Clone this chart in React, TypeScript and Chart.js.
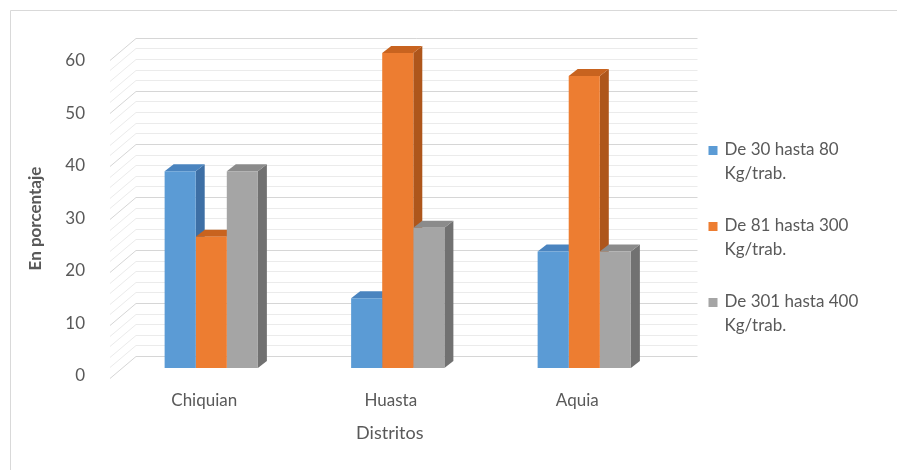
import React, { useEffect, useRef } from "react";
import { Chart, registerables } from "chart.js";

Chart.register(...registerables);

// Categories and series (percentages per district)
const distritos = ["Chiquian", "Huasta", "Aquia"];
const rango30a80 = [37.5, 13.3, 22.2];
const rango81a300 = [25.0, 60.0, 55.6];
const rango301a400 = [37.5, 26.7, 22.2];
const serieNombres = [
  "De 30 hasta 80 Kg/trab.",
  "De 81 hasta 300 Kg/trab.",
  "De 301 hasta 400 Kg/trab.",
];
const yMin = 0;
const yMax = 60;
const yStep = 10;
const yMinorStep = 2;
const tituloY = "En porcentaje";
const tituloX = "Distritos";

const FONT = "Lato, 'Open Sans', 'DejaVu Sans', sans-serif";
const TEXT = "#595959";
const frontColors = ["#5B9BD5", "#ED7D31", "#A5A5A5"];
const sideColors = ["#3D6FA5", "#AE561B", "#717171"];
const topColors = ["#4A84BF", "#C8631F", "#8B8B8B"];

// depth of each column (pixels right / up)
const DX = 9;
const DY = 7;

const framePlugin = {
  id: "frame",
  beforeDraw(chart: any) {
    const { ctx, width, height } = chart;
    ctx.save();
    ctx.fillStyle = "#ffffff";
    ctx.fillRect(0, 0, width, height);
    ctx.strokeStyle = "#d9d9d9";
    ctx.lineWidth = 1;
    ctx.beginPath();
    ctx.moveTo(10.5, height);
    ctx.lineTo(10.5, 10.5);
    ctx.lineTo(width, 10.5);
    ctx.stroke();
    ctx.restore();
  },
};

// back wall, side wall and the 3D faces of each column
const depthPlugin = {
  id: "depth",
  beforeDatasetsDraw(chart: any) {
    const { ctx, chartArea } = chart;
    const { left, right, bottom } = chartArea;
    const ys = chart.scales.y;
    const wallLeft = left + 18;
    const wallRight = right + 20;
    const backY = (v: number) => bottom - 12 - (bottom - ys.getPixelForValue(v)) * 1.01;

    ctx.save();
    ctx.lineWidth = 1;
    for (let v = yMin; v <= yMax; v += yMinorStep) {
      const major = v % yStep === 0;
      const y = Math.round(backY(v)) + 0.5;
      ctx.strokeStyle = major ? "#d6d6d6" : "#ebebeb";
      ctx.beginPath();
      ctx.moveTo(wallLeft, y);
      ctx.lineTo(wallRight, y);
      ctx.stroke();
      ctx.beginPath();
      ctx.moveTo(left - 8, y + 22);
      ctx.lineTo(wallLeft, y);
      ctx.stroke();
    }

    chart.data.datasets.forEach((ds: any, i: number) => {
      const meta = chart.getDatasetMeta(i);
      meta.data.forEach((bar: any) => {
        const { x, y, width, base } = bar.getProps(["x", "y", "width", "base"], true);
        const l = x - width / 2;
        const r = x + width / 2;
        ctx.fillStyle = sideColors[i];
        ctx.beginPath();
        ctx.moveTo(r, y);
        ctx.lineTo(r + DX, y - DY);
        ctx.lineTo(r + DX, base - DY);
        ctx.lineTo(r, base);
        ctx.closePath();
        ctx.fill();
        ctx.fillStyle = topColors[i];
        ctx.beginPath();
        ctx.moveTo(l, y);
        ctx.lineTo(l + DX, y - DY);
        ctx.lineTo(r + DX, y - DY);
        ctx.lineTo(r, y);
        ctx.closePath();
        ctx.fill();
      });
    });
    ctx.restore();
  },
};

const titlesPlugin = {
  id: "titles",
  afterDraw(chart: any) {
    const { ctx, chartArea } = chart;
    const { left, right, top, bottom } = chartArea;
    ctx.save();
    ctx.fillStyle = TEXT;
    ctx.textAlign = "center";
    ctx.textBaseline = "middle";
    ctx.font = `bold 17px ${FONT}`;
    ctx.translate(left - 82, (top + bottom) / 2 + 8);
    ctx.rotate(-Math.PI / 2);
    ctx.fillText(tituloY, 0, 0);
    ctx.restore();

    ctx.save();
    ctx.fillStyle = TEXT;
    ctx.textAlign = "center";
    ctx.textBaseline = "middle";
    ctx.font = `18px ${FONT}`;
    ctx.fillText(tituloX, (left + right) / 2 - 8, bottom + 65);
    ctx.restore();
  },
};

const legendPlugin = {
  id: "sideLegend",
  afterDraw(chart: any) {
    const { ctx, chartArea } = chart;
    const x0 = chartArea.right + 31;
    const y0 = chartArea.top + 97;
    ctx.save();
    ctx.font = `17px ${FONT}`;
    ctx.textBaseline = "middle";
    ctx.textAlign = "left";
    chart.data.datasets.forEach((ds: any, i: number) => {
      const y = y0 + i * 76;
      ctx.fillStyle = frontColors[i];
      ctx.fillRect(x0, y - 4, 9, 9);
      const label: string = ds.label;
      const cut = label.lastIndexOf(" ");
      const lines = [label.slice(0, cut), label.slice(cut + 1)];
      ctx.fillStyle = TEXT;
      lines.forEach((ln, k) => ctx.fillText(ln, x0 + 16, y + k * 24));
    });
    ctx.restore();
  },
};

export default function App() {
  const canvasRef = useRef<HTMLCanvasElement | null>(null);

  useEffect(() => {
    const canvas = canvasRef.current;
    if (!canvas) return;
    const series = [rango30a80, rango81a300, rango301a400];
    const chart = new Chart(canvas, {
      type: "bar",
      data: {
        labels: distritos,
        datasets: series.map((values, i) => ({
          label: serieNombres[i],
          data: values,
          backgroundColor: frontColors[i],
          borderWidth: 0,
          categoryPercentage: 0.5,
          barPercentage: 1,
        })),
      },
      options: {
        responsive: false,
        animation: false,
        devicePixelRatio: 1,
        layout: { padding: { left: 0, right: 219.5, top: 53, bottom: 0 } },
        plugins: {
          legend: { display: false },
          tooltip: { enabled: false },
          title: { display: false },
        },
        scales: {
          x: {
            grid: { display: false },
            border: { display: false },
            ticks: {
              color: TEXT,
              font: { family: FONT, size: 17 },
              padding: 14,
              labelOffset: -7,
            },
            afterFit: (scale: any) => {
              scale.height = 102;
            },
          },
          y: {
            min: yMin,
            max: yMax,
            grid: { display: false },
            border: { display: false },
            ticks: {
              stepSize: yStep,
              color: TEXT,
              font: { family: FONT, size: 17 },
              padding: 25,
              labelOffset: 8,
            },
            afterFit: (scale: any) => {
              scale.width = 118;
            },
          },
        },
      },
      plugins: [framePlugin, depthPlugin, titlesPlugin, legendPlugin],
    });
    return () => chart.destroy();
  }, []);

  return (
    <div style={{ position: "absolute", left: 0, top: 0, width: 897, height: 470 }}>
      <canvas ref={canvasRef} width={897} height={470} />
    </div>
  );
}
